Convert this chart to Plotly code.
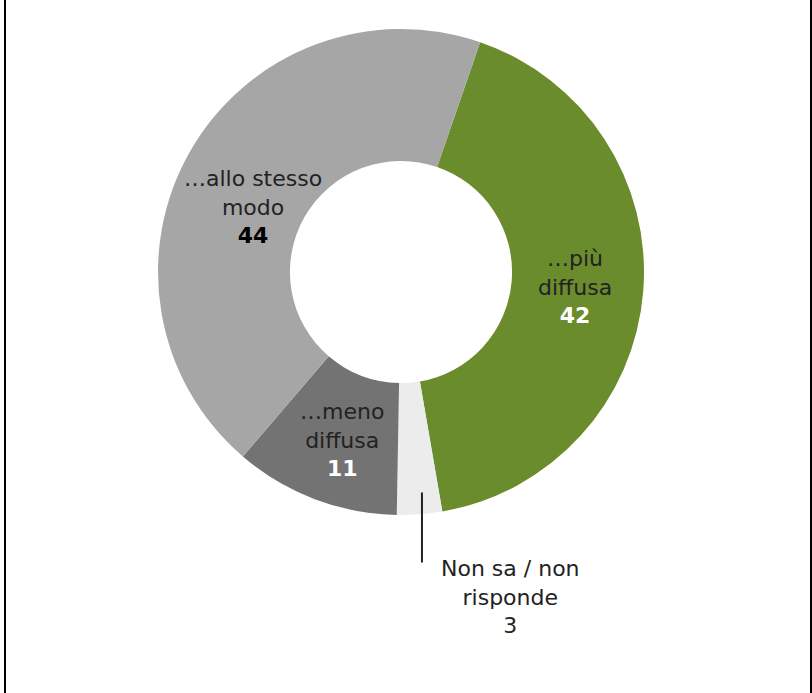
import math
import plotly.graph_objects as go

# ---- data ----
labels = ["…più diffusa", "Non sa / non risponde", "…meno diffusa", "…allo stesso modo"]
values = [42, 3, 11, 44]
label_lines = [["…più", "diffusa"], ["Non sa / non", "risponde"], ["…meno", "diffusa"], ["…allo stesso", "modo"]]

# ---- style / layout config ----
colors = ["#6a8c2c", "#ececec", "#737373", "#a6a6a6"]
number_colors = ["#ffffff", "#262626", "#ffffff", "#000000"]
number_bold = [True, False, True, True]
outside = [False, True, False, False]
label_nudge = [(0, 1), (4, 0), (3, 4), (4, 22)]   # pixel nudges (dx, dy) of labels

W, H = 812, 693
CX, CY, R = 401, 272, 243      # pixel centre and outer radius
HOLE = 0.457
ROTATION = 19                  # degrees clockwise from 12 o'clock
LABEL_R = 0.72                 # inside-label radius as fraction of R
FONT = "DejaVu Sans"
FSIZE = 22
TXT = "#222222"

dom_x = [(CX - R) / W, (CX + R) / W]
dom_y = [1 - (CY + R) / H, 1 - (CY - R) / H]

fig = go.Figure(go.Pie(
    labels=labels, values=values, sort=False, direction="clockwise",
    rotation=ROTATION, hole=HOLE, textinfo="none", hoverinfo="skip",
    marker=dict(colors=colors, line=dict(width=0)),
    domain=dict(x=dom_x, y=dom_y), showlegend=False,
))

def px2paper(x, y):
    return x / W, 1 - y / H

total = sum(values)
annotations = []
shapes = []
cum = 0
for i, v in enumerate(values):
    a0 = ROTATION + 360 * cum / total
    a1 = ROTATION + 360 * (cum + v) / total
    cum += v
    mid = math.radians((a0 + a1) / 2)
    dx, dy = label_nudge[i]
    num = f"<b>{v}</b>" if number_bold[i] else f"{v}"
    text = "<br>".join(label_lines[i]) + f"<br><span style='color:{number_colors[i]}'>{num}</span>"
    if not outside[i]:
        x = CX + LABEL_R * R * math.sin(mid) + dx
        y = CY - LABEL_R * R * math.cos(mid) + dy
    else:
        # leader line going straight down from inside the slice
        lx = CX + 0.91 * R * math.sin(mid) + dx
        ly0 = CY - 0.91 * R * math.cos(mid)
        ly1 = ly0 + 70
        p0 = px2paper(lx, ly0)
        p1 = px2paper(lx, ly1)
        shapes.append(dict(type="line", xref="paper", yref="paper",
                           x0=p0[0], y0=p0[1], x1=p1[0], y1=p1[1],
                           line=dict(color=TXT, width=2)))
        x = lx + 89
        y = ly1 + 35
    px, py = px2paper(x, y)
    annotations.append(dict(x=px, y=py, xref="paper", yref="paper", text=text,
                            showarrow=False, xanchor="center", yanchor="middle",
                            align="center", font=dict(family=FONT, size=FSIZE, color=TXT)))

# frame lines at left and right edges
for xp in (5, 811):
    shapes.append(dict(type="line", xref="paper", yref="paper",
                       x0=xp / W, x1=xp / W, y0=0, y1=1,
                       line=dict(color="#000000", width=2)))

fig.update_layout(
    width=W, height=H, margin=dict(l=0, r=0, t=0, b=0),
    paper_bgcolor="#ffffff", plot_bgcolor="#ffffff",
    annotations=annotations, shapes=shapes,
)

fig.write_html("out.html")
